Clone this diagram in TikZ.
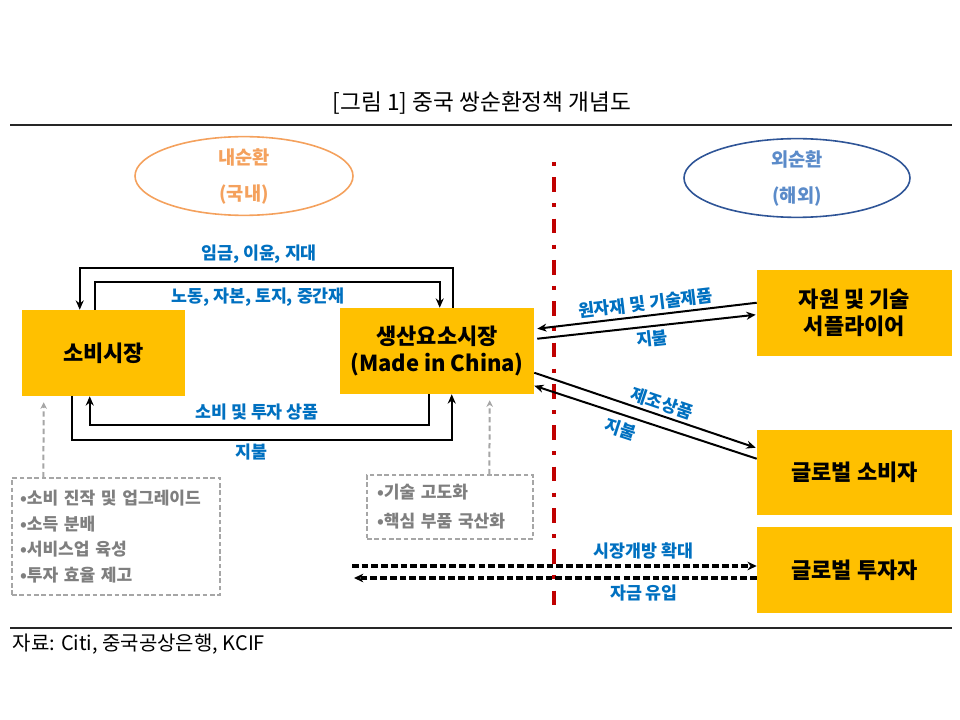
\documentclass[tikz,border=0pt]{standalone}
\usepackage{fontspec}
\setmainfont{Noto Sans CJK KR}
\usetikzlibrary{arrows.meta,calc,shapes.geometric}
\definecolor{boxy}{HTML}{FFC000}
\definecolor{lblue}{HTML}{0070C0}
\definecolor{ggray}{HTML}{7F7F7F}
\definecolor{dgray}{HTML}{A6A6A6}
\definecolor{redl}{HTML}{C00000}
\definecolor{orng}{HTML}{F4A15D}
\definecolor{ebl}{HTML}{2F5597}
\definecolor{etx}{HTML}{5B8BC9}
\begin{document}
\begin{tikzpicture}[x=0.75pt,y=-0.75pt,
 ybox/.style={fill=boxy,inner sep=0pt,align=center,font=\fontsize{16.5}{20}\selectfont\bfseries},
 arr/.style={line width=1.5pt,-{Stealth[length=7pt,width=6pt]}},
 rarr/.style={line width=1.5pt,{Stealth[length=7pt,width=6pt]}-},
 lbl/.style={text=lblue,font=\fontsize{13}{15}\selectfont\bfseries,inner sep=1pt},
 gbox/.style={draw=dgray,line width=1pt,dash pattern=on 3.5pt off 2pt,align=left,text=ggray,font=\fontsize{12.8}{19.3}\selectfont\bfseries},
 garr/.style={draw=dgray,line width=1.5pt,dash pattern=on 4pt off 2.5pt,-{Stealth[length=5pt,width=5pt]}},
 darr/.style={line width=2.6pt,dash pattern=on 5pt off 2.3pt,-{Stealth[length=7pt,width=6.5pt]}},
 ell/.style={ellipse,line width=1.2pt,inner sep=0pt,align=center,font=\fontsize{14}{27}\selectfont\bfseries},
 redline/.style={draw=redl,line width=2.3pt,dash pattern=on 3pt off 8.5pt on 11pt off 8.5pt},
 rule/.style={line width=1.1pt,draw=black!85}
]
\useasboundingbox (0,0) rectangle (960,720);
% title and rules
\node[font=\fontsize{17}{20}\selectfont] (title) at (482,103) {[그림 1] 중국 쌍순환정책 개념도};
\coordinate (r1a) at (10,125); \coordinate (r1b) at (952,125);
\coordinate (r2a) at (10,628); \coordinate (r2b) at (952,628);
\draw[rule] (r1a) -- (r1b);
\draw[rule] (r2a) -- (r2b);
\node[anchor=west,font=\fontsize{15}{17}\selectfont] (src) at (8,644) {자료: Citi, 중국공상은행, KCIF};
% ellipses
\node[ell,draw=orng,text=orng,minimum width={218*0.75pt},minimum height={72*0.75pt}] (ein) at (244,176) {내순환\\(국내)};
\node[ell,draw=ebl,text=etx,minimum width={226*0.75pt},minimum height={70*0.75pt}] (eout) at (797,178) {외순환\\(해외)};
% red divider
\coordinate (rt) at (554,162); \coordinate (rb) at (554,610);
\draw[redline] (rt) -- (rb);
% boxes
\node[ybox,minimum width={163*0.75pt},minimum height={86*0.75pt}] (cm) at (103.5,353) {소비시장};
\node[ybox,minimum width={194*0.75pt},minimum height={86*0.75pt}] (pm) at (437,351) {생산요소시장\\(Made in China)};
\node[ybox,minimum width={195*0.75pt},minimum height={86*0.75pt}] (rs) at (854.5,313) {자원 및 기술\\서플라이어};
\node[ybox,minimum width={195*0.75pt},minimum height={85*0.75pt}] (gc) at (854.5,472.5) {글로벌 소비자};
\node[ybox,minimum width={195*0.75pt},minimum height={86*0.75pt}] (gi) at (854.5,570) {글로벌 투자자};
% domestic loop
\draw[arr] ($(pm.north west)+(113,0)$) -- ++(0,-40) -| ($(cm.north west)+(58,0)$);
\draw[arr] ($(cm.north west)+(73,0)$) -- ++(0,-28) -| ($(pm.north west)+(100,0)$);
\draw[arr] ($(pm.south west)+(89,0)$) -- ++(0,31) -| ($(cm.south west)+(68,0)$);
\draw[arr] ($(cm.south west)+(50,0)$) -- ++(0,44) -| ($(pm.south west)+(112,0)$);
\node[lbl] (l1) at (259,254) {임금, 이윤, 지대};
\node[lbl] (l2) at (258,297) {노동, 자본, 토지, 중간재};
\node[lbl] (l3) at (257,412) {소비 및 투자 상품};
\node[lbl] (l4) at (251,452) {지불};
% external arrows
\draw[rarr] ($(pm.north east)+(3,21)$) -- node[lbl,sloped,above=1.5pt,pos=0.5]{원자재 및 기술제품} ($(rs.north west)+(0,33)$);
\draw[arr] ($(pm.north east)+(3,31)$) -- node[lbl,sloped,below=1.5pt,pos=0.52]{지불} ($(rs.north west)+(-1,45)$);
\draw[arr] ($(pm.north east)+(0,65)$) -- node[lbl,sloped,above=1pt,pos=0.56]{제조상품} ($(gc.north west)+(-1,18)$);
\draw[rarr] ($(pm.north east)+(0,78)$) -- node[lbl,sloped,below=3pt,pos=0.41]{지불} ($(gc.north west)+(0,29)$);
% gray boxes
\node[gbox,text width={192*0.75pt},inner xsep={8*0.75pt},minimum height={117*0.75pt}] (lb) at (116,536.5) {•소비 진작 및 업그레이드\\•소득 분배\\•서비스업 육성\\•투자 효율 제고};
\node[gbox,font=\fontsize{12.8}{21.75}\selectfont\bfseries,text width={146*0.75pt},inner xsep={10*0.75pt},minimum height={64*0.75pt}] (mb) at (450,507) {•기술 고도화\\•핵심 부품 국산화};
\draw[garr] ($(lb.north west)+(32,0)$) -- ($(cm.south west)+(22,6)$);
\draw[garr] ($(mb.north west)+(123,0)$) -- ($(pm.south west)+(150,6)$);
% dashed investor arrows
\coordinate (d1) at (352,566); \coordinate (d2) at (354,578);
\draw[darr] (d1) -- node[lbl,above=3pt,pos=0.72]{시장개방 확대} (d1 -| gi.west);
\draw[darr] (d2 -| gi.west) -- node[lbl,below=3pt,pos=0.28]{자금 유입} (d2);
\end{tikzpicture}
\end{document}
